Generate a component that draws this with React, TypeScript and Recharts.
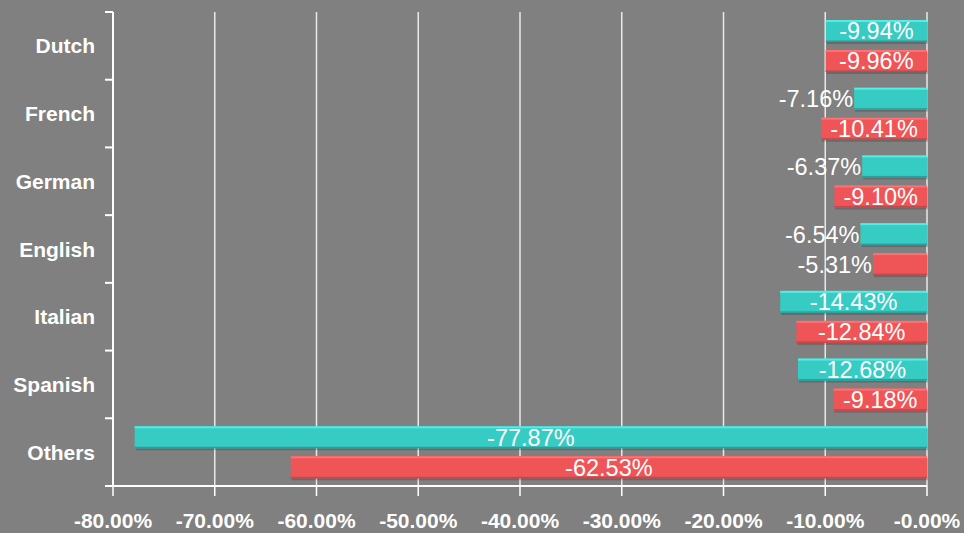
import { BarChart, Bar, XAxis, YAxis, CartesianGrid, LabelList } from "recharts";

const languages = ["Dutch", "French", "German", "English", "Italian", "Spanish", "Others"];
const tealValues = [-9.94, -7.16, -6.37, -6.54, -14.43, -12.68, -77.87];
const redValues = [-9.96, -10.41, -9.1, -5.31, -12.84, -9.18, -62.53];
const xTicks = [-80, -70, -60, -50, -40, -30, -20, -10, 0];
const xTickLabels = ["-80.00%", "-70.00%", "-60.00%", "-50.00%", "-40.00%", "-30.00%", "-20.00%", "-10.00%", "-0.00%"];

const data = languages.map((name, i) => ({ name, teal: tealValues[i], red: redValues[i] }));

const W = 964;
const H = 533;
const MARGIN = { top: 12, right: 37, left: 0, bottom: 0 };
const X_AXIS_H = 47;
const Y_AXIS_W = 113;
const FONT = "'Liberation Sans', Arial, sans-serif";
const LABEL_SIZE = 23.5;

// rough Arial widths in em
const charWidth = (c: string) => (c === "-" ? 0.333 : c === "." ? 0.278 : c === "%" ? 0.889 : 0.556);
const textWidth = (s: string, size: number) => s.split("").reduce((a, c) => a + charWidth(c), 0) * size;

const makeShape = (fill: string, light: string, dark: string) => (props: any) => {
  const { x, y, width, height } = props;
  const left = Math.min(x, x + width);
  const w = Math.abs(width);
  return (
    <g>
      <rect x={left + 1} y={y + 2} width={w} height={height} fill="rgba(0,0,0,0.18)" />
      <rect x={left} y={y} width={w} height={height} fill={fill} />
      <rect x={left} y={y} width={w} height={2} fill={light} />
      <rect x={left} y={y + height - 1.5} width={w} height={1.5} fill={dark} />
    </g>
  );
};

const renderLabel = (props: any) => {
  const { x, y, width, height, value } = props;
  const left = Math.min(x, x + width);
  const w = Math.abs(width);
  const text = `${Number(value).toFixed(2)}%`;
  const tw = textWidth(text, LABEL_SIZE);
  const cy = y + height / 2;
  const fits = w > tw + 8;
  return (
    <text
      x={fits ? left + w / 2 : left - 1}
      y={cy}
      dy="0.36em"
      textAnchor={fits ? "middle" : "end"}
      fill="#ffffff"
      fontSize={LABEL_SIZE}
      fontFamily={FONT}
    >
      {text}
    </text>
  );
};

const plotHeight = H - MARGIN.top - MARGIN.bottom - X_AXIS_H;
const band = plotHeight / languages.length;

const CategoryTick = (props: any) => {
  const { x, y, payload, index } = props;
  const ax = x + 8; // axis line position
  return (
    <g>
      <line x1={ax - 8} x2={ax} y1={y - band / 2} y2={y - band / 2} stroke="#ffffff" strokeWidth={2} />
      {index === languages.length - 1 && (
        <line x1={ax - 8} x2={ax} y1={y + band / 2} y2={y + band / 2} stroke="#ffffff" strokeWidth={2} />
      )}
      <text
        x={ax - 18}
        y={y}
        dy="0.36em"
        textAnchor="end"
        fill="#ffffff"
        fontSize={21}
        fontWeight="bold"
        fontFamily={FONT}
      >
        {payload.value}
      </text>
    </g>
  );
};

const ValueTick = (props: any) => {
  const { x, y, payload } = props;
  const i = xTicks.indexOf(payload.value);
  return (
    <text x={x} y={y + 32} textAnchor="middle" fill="#ffffff" fontSize={21} fontWeight="bold" fontFamily={FONT}>
      {xTickLabels[i]}
    </text>
  );
};

export default function App() {
  return (
    <div style={{ position: "absolute", left: 0, top: 0, width: W, height: H, background: "#808080" }}>
      <BarChart
        width={W}
        height={H}
        data={data}
        layout="vertical"
        margin={MARGIN}
        barSize={22}
        barGap={8}
      >
        <CartesianGrid horizontal={false} vertical stroke="#e8e8e8" strokeWidth={1.5} />
        <XAxis
          type="number"
          domain={[-80, 0]}
          ticks={xTicks}
          height={X_AXIS_H}
          axisLine={{ stroke: "#ffffff", strokeWidth: 2 }}
          tickLine={{ stroke: "#ffffff", strokeWidth: 1.5 }}
          tickSize={10}
          tickMargin={0}
          tick={<ValueTick />}
          interval={0}
        />
        <YAxis
          type="category"
          dataKey="name"
          width={Y_AXIS_W}
          axisLine={{ stroke: "#ffffff", strokeWidth: 2 }}
          tickLine={false}
          tick={<CategoryTick />}
          interval={0}
        />
        <Bar dataKey="teal" name="Series 1" isAnimationActive={false} shape={makeShape("#36cbc3", "#55ece4", "#2a9f99")}>
          <LabelList dataKey="teal" content={renderLabel} />
        </Bar>
        <Bar dataKey="red" name="Series 2" isAnimationActive={false} shape={makeShape("#ef5457", "#ff7174", "#c0494b")}>
          <LabelList dataKey="red" content={renderLabel} />
        </Bar>
      </BarChart>
    </div>
  );
}
